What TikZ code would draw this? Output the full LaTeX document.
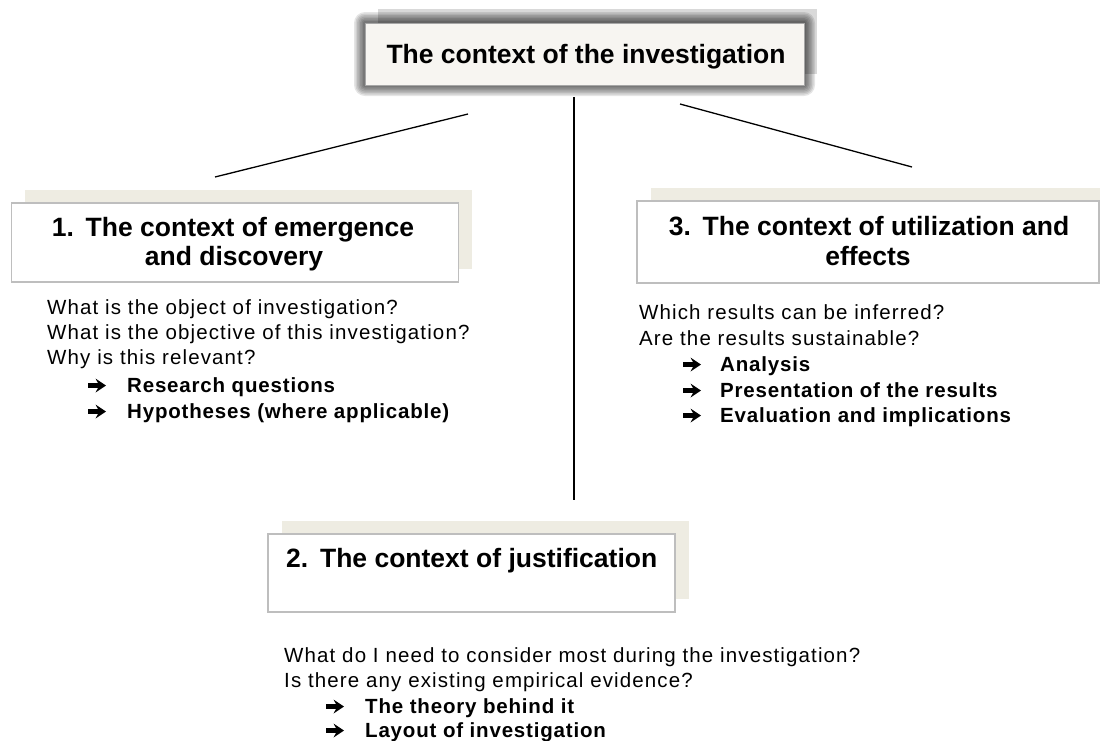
\documentclass[tikz,border=0pt]{standalone}
\usepackage{fontspec}
\setmainfont{Liberation Sans}
\newfontfamily\bodyfont[LetterSpace=5.5]{Liberation Sans}
\newfontfamily\itemfont[LetterSpace=4]{Liberation Sans}
\usetikzlibrary{shadows}
\definecolor{beige}{HTML}{EEECE2}
\definecolor{boxborder}{HTML}{BEBEBE}
\definecolor{titlefill}{HTML}{F7F5F1}
\begin{document}
\begin{tikzpicture}[x=1pt,y=-1pt,
  head/.style={font=\fontsize{26.5}{30}\selectfont\bfseries, inner sep=0pt, anchor=base},
  ctx/.style={draw=boxborder, line width=1.5pt, fill=white, inner sep=0pt,
    drop shadow={shadow xshift=13.5pt, shadow yshift=13.5pt, fill=beige, opacity=1, draw=none}},
  body/.style={font=\bodyfont\fontsize{20.5}{24}\selectfont, anchor=base west, inner sep=0pt},
  item/.style={font=\itemfont\bfseries\fontsize{20.5}{24}\selectfont, anchor=base west, inner sep=0pt},
  link/.style={line width=1.3pt, black},
  barrow/.pic={\fill[black] (0,-2.4)--(10,-2.4)--(7.5,-7)--(18,0)--(7.5,7)--(10,2.4)--(0,2.4)--cycle;}]
\useasboundingbox (0,0) rectangle (1100,740);

% title box with blurred frame
\fill[gray!30] (378,9) rectangle (817,74);
\foreach \d in {11,9.5,8,6.5,5,3.5,2}{
  \fill[black, opacity=0.1, rounded corners=\d pt] (365-\d,23-\d) rectangle (804+\d,85+\d);
}
\node[draw=gray!70, line width=1pt, fill=titlefill, minimum width=439pt, minimum height=62pt, inner sep=0pt] (title) at (584.5,54) {};
\node[head] (titletext) at (586,63) {The context of the investigation};

% connectors
\coordinate (l1a) at (468,114); \coordinate (l1b) at (215,177);
\coordinate (l2a) at (574,97);  \coordinate (l2b) at (574,500);
\coordinate (l3a) at (680,104); \coordinate (l3b) at (912,167);
\draw[link] (l1a) -- (l1b);
\draw[link] (l2a) -- (l2b);
\draw[link] (l3a) -- (l3b);

% box 1
\node[ctx, minimum width=447pt, minimum height=79pt] (box1) at (235,242.5) {};
\node[head] (h1a) at (233,236) {1.\ \,The context of emergence};
\node[head] (h1b) at (234,265) {and discovery};
\node[body] (q1a) at (47,314) {What is the object of investigation?};
\node[body] (q1b) at (47,339) {What is the objective of this investigation?};
\node[body] (q1c) at (47,364) {Why is this relevant?};
\pic at (88,385.5) {barrow};
\node[item] (i1a) at (127,392) {Research questions};
\pic at (88,411.5) {barrow};
\node[item] (i1b) at (127,418) {Hypotheses (where applicable)};

% box 3
\node[ctx, minimum width=462pt, minimum height=82pt] (box3) at (868,242) {};
\node[head] (h3a) at (869,235) {3.\ \,The context of utilization\ and};
\node[head] (h3b) at (868,265) {effects};
\node[body] (q3a) at (639,319) {Which results can be inferred?};
\node[body] (q3b) at (639,345) {Are the results sustainable?};
\pic at (683,364.5) {barrow};
\node[item] (i3a) at (720,371) {Analysis};
\pic at (683,390.5) {barrow};
\node[item] (i3b) at (720,397) {Presentation of the results};
\pic at (683,415.5) {barrow};
\node[item] (i3c) at (720,422) {Evaluation and implications};

% box 2
\node[ctx, minimum width=407pt, minimum height=78pt] (box2) at (471.5,573) {};
\node[head, anchor=base west] (h2) at (286,567) {2.\ \,The context of justification};
\node[body] (q2a) at (284,662) {What do I need to consider most during the investigation?};
\node[body] (q2b) at (284,687) {Is there any existing empirical evidence?};
\pic at (326,706.5) {barrow};
\node[item] (i2a) at (365,713) {The theory behind it};
\pic at (326,730.5) {barrow};
\node[item] (i2b) at (365,737) {Layout of investigation};
\end{tikzpicture}
\end{document}
